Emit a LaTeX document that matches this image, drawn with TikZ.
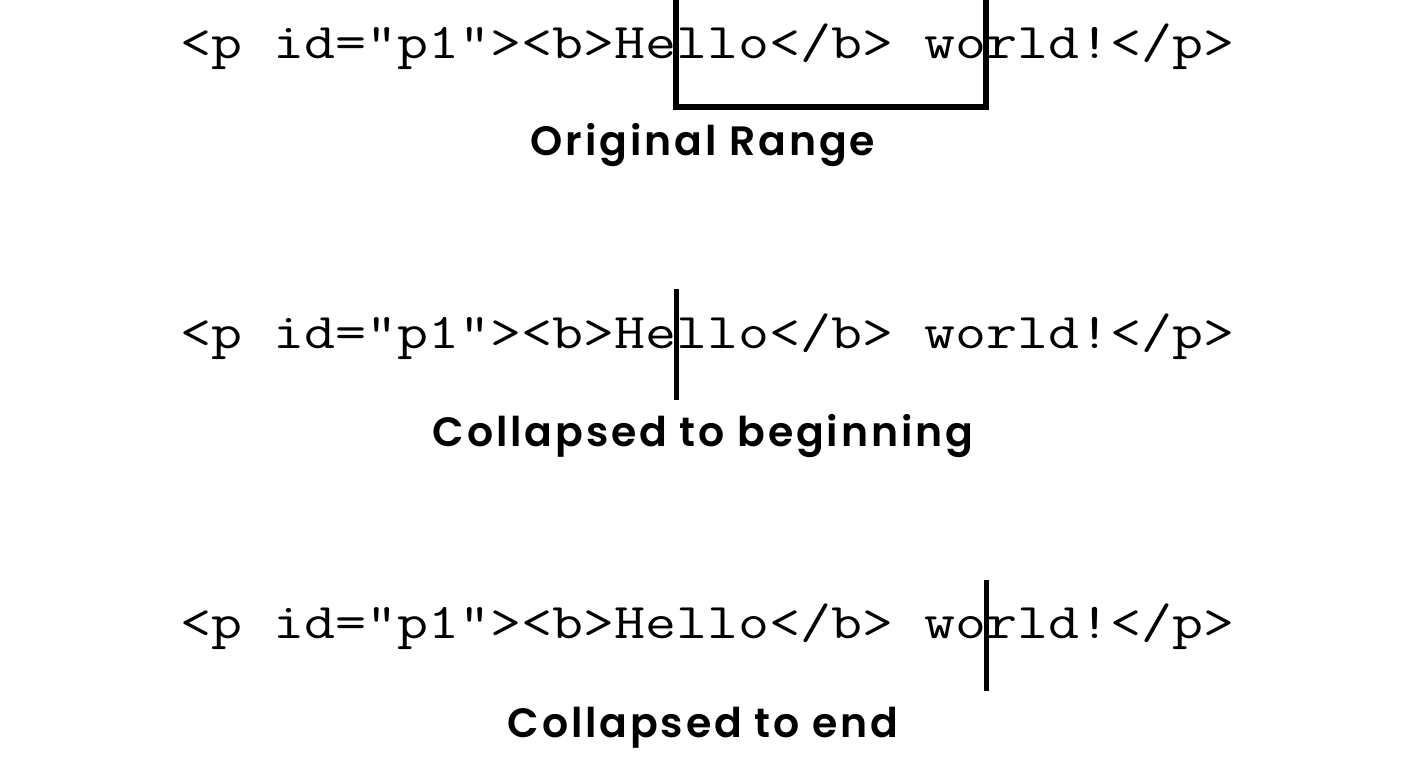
\documentclass[tikz,border=0pt]{standalone}
\usepackage{fontspec}
\usepackage{graphicx}
\newfontfamily\labelfont{Poppins}[UprightFont=* SemiBold, LetterSpace=7]
\newcommand{\codetext}[1]{\scalebox{1.204}[1]{\ttfamily\fontsize{50}{50}\selectfont #1}}
\tikzset{
  code/.style={anchor=base west, inner sep=0pt, outer sep=0pt},
  caption/.style={anchor=base, inner sep=0pt,
    font=\labelfont\fontsize{41}{41}\selectfont},
  mark line/.style={line width=6pt, line join=miter, line cap=butt}
}
\begin{document}
\begin{tikzpicture}[x=1pt,y=-1pt]
\useasboundingbox (0,0) rectangle (1416,769);
% row 1: original range
\node[code] (a1) at (180,58) {\codetext{<p id="p1"><b>He}};
\node[code] (b1) at (a1.base east) {\codetext{llo</b> wo}};
\node[code] (c1) at (b1.base east) {\codetext{rld!</p>}};
\coordinate (top) at (0,-6);
\coordinate (bot) at (0,107);
\draw[mark line] (top -| b1.west) -- (bot -| b1.west) -- (bot -| b1.east) -- (top -| b1.east);
\node[caption] (l1) at (703,155) {Original Range};
% row 2: collapsed to beginning
\node[code] (a2) at (180,348) {\codetext{<p id="p1"><b>He}};
\node[code] (b2) at (a2.base east) {\codetext{llo</b> world!</p>}};
\coordinate (t2) at (0,289);
\coordinate (u2) at (0,400);
\draw[mark line, line width=5pt] (t2 -| b2.west) -- (u2 -| b2.west);
\node[caption] (l2) at (703,446) {Collapsed to beginning};
% row 3: collapsed to end
\node[code] (a3) at (180,638) {\codetext{<p id="p1"><b>Hello</b> wo}};
\node[code] (b3) at (a3.base east) {\codetext{rld!</p>}};
\coordinate (t3) at (0,580);
\coordinate (u3) at (0,691);
\draw[mark line, line width=5pt] (t3 -| b3.west) -- (u3 -| b3.west);
\node[caption] (l3) at (703,737) {Collapsed to end};
\end{tikzpicture}
\end{document}
